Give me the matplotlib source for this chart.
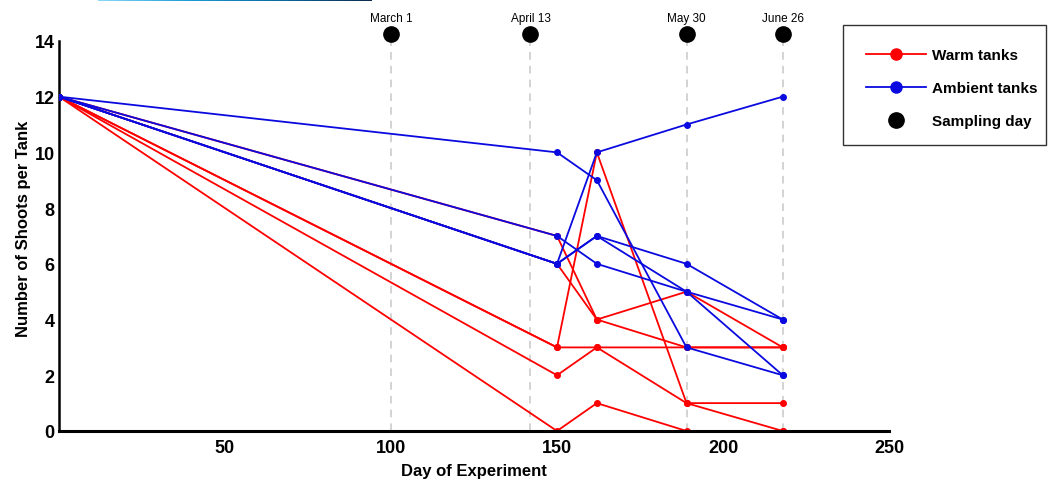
import matplotlib
matplotlib.use("Agg")
import matplotlib.pyplot as plt
from matplotlib.lines import Line2D
from matplotlib.patches import Rectangle
from matplotlib.colors import LinearSegmentedColormap
import numpy as np

plt.rcParams['font.family'] = ['Liberation Sans', 'DejaVu Sans']

# days on which shoots were counted
days = [0, 150, 162, 189, 218]

# warm tanks (red)
warm = [
    [12, 3, 10, 1, 1],
    [12, 3, 3, 3, 3],
    [12, 2, 3, 1, 0],
    [12, 0, 1, 0, 0],
    [12, 7, 4, 5, 3],
    [12, 6, 4, 3, 3],
]

# ambient tanks (blue)
ambient = [
    [12, 10, 9, 3, 2],
    [12, 6, 10, 11, 12],
    [12, 7, 6, 5, 4],
    [12, 6, 7, 6, 4],
    [12, 6, 7, 5, 2],
]

sample_days = [100, 142, 189, 218]
sample_labels = ["March 1", "April 13", "May 30", "June 26"]

x_ticks = [50, 100, 150, 200, 250]
y_ticks = [0, 2, 4, 6, 8, 10, 12, 14]

fig = plt.figure(figsize=(10.51, 4.81), dpi=100)
ax = fig.add_axes([0.0561, 0.1019, 0.7898, 0.8457])

# sampling day markers + dashed guide lines
for d, lab in zip(sample_days, sample_labels):
    ax.plot([d, d], [0, 14.25], color='#c8c8c8', linestyle=(0, (5, 4)), linewidth=1.1, zorder=1)
    ax.plot(d, 14.25, 'o', color='black', markersize=11, clip_on=False, zorder=5)
    ax.text(d, 14.62, lab, ha='center', va='bottom', fontsize=8.5, clip_on=False)

for w in warm:
    ax.plot(days, w, '-o', color='#ff0000', linewidth=1.3, markersize=4, zorder=2)
for a in ambient:
    ax.plot(days, a, '-o', color='#0a0ae0', linewidth=1.3, markersize=4, zorder=3)

ax.set_xlim(0, 250)
ax.set_ylim(0, 14.6)
ax.set_xticks(x_ticks)
ax.set_yticks(y_ticks)
ax.tick_params(axis='x', length=0, labelsize=13, pad=6)
ax.tick_params(axis='y', length=0, labelsize=13, pad=3)
for t in ax.get_xticklabels() + ax.get_yticklabels():
    t.set_fontweight('bold')

ax.spines['top'].set_visible(False)
ax.spines['right'].set_visible(False)
ax.spines['left'].set_bounds(0, 14)
ax.spines['left'].set_linewidth(1.8)
ax.spines['bottom'].set_linewidth(2.2)

ax.set_xlabel("Day of Experiment", fontsize=12, fontweight='bold', labelpad=5)
ax.set_ylabel("Number of Shoots per Tank", fontsize=12, fontweight='bold', labelpad=3)

# legend box drawn by hand, entries from a frameless legend
fig.patches.append(Rectangle((843 / 1051, 1 - 146 / 481), 203 / 1051, 120 / 481,
                             transform=fig.transFigure, facecolor='white',
                             edgecolor='#333333', linewidth=1.0))
handles = [
    Line2D([0], [0], color='#ff0000', marker='o', markersize=8, linewidth=1.3),
    Line2D([0], [0], color='#0a0ae0', marker='o', markersize=8, linewidth=1.3),
    Line2D([0], [0], color='black', marker='o', markersize=11, linestyle='none'),
]
leg = fig.legend(handles, ["Warm tanks", "Ambient tanks", "Sampling day"],
                 loc='upper left', bbox_to_anchor=(866 / 1051, 1 - 49 / 481), borderaxespad=0,
                 frameon=False, borderpad=0, labelspacing=1.25, handlelength=3.9,
                 handletextpad=0.45, prop={'weight': 'bold', 'size': 11})

# thin gradient strip at the very top
strip = fig.add_axes([98 / 1051, 1 - 2 / 481, 274 / 1051, 2 / 481])
cmap = LinearSegmentedColormap.from_list('strip', ['#88d8f8', '#1a9ad6', '#0a6aa0', '#0c2a4c'])
strip.imshow(np.linspace(0, 1, 200)[None, :], aspect='auto', cmap=cmap)
strip.axis('off')

fig.savefig("out.png", dpi=100)
